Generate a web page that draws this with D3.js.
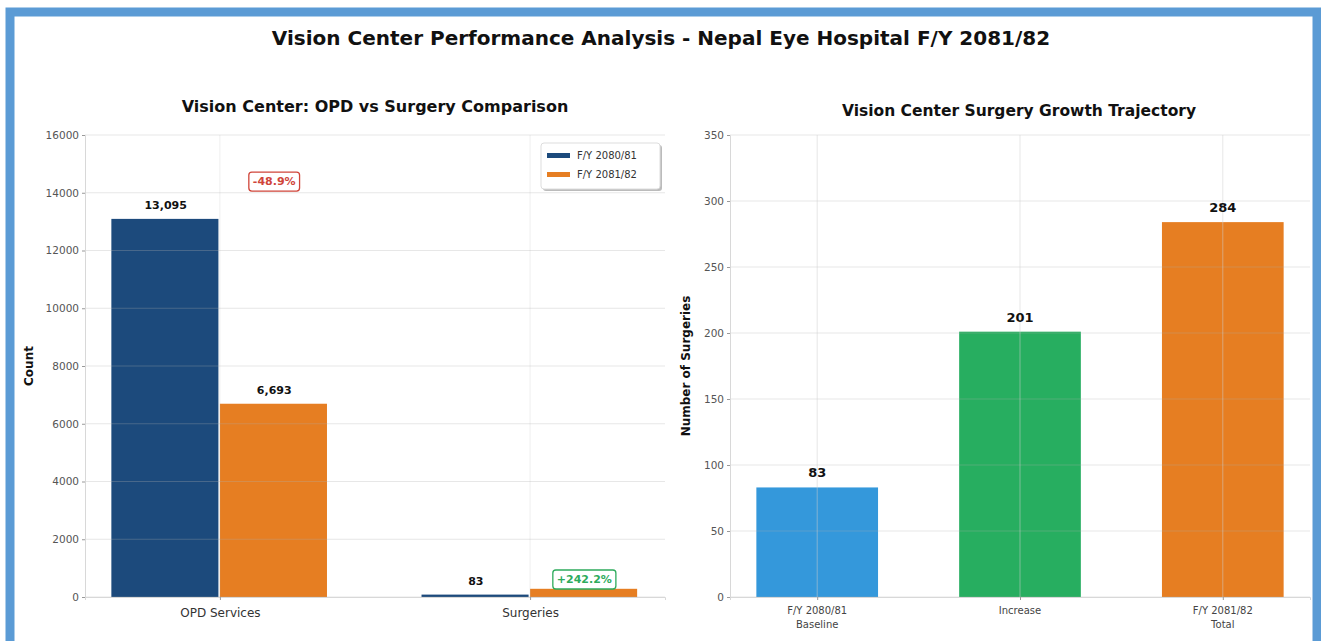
<!DOCTYPE html>
<html>
<head>
<meta charset="utf-8">
<script src="https://cdn.jsdelivr.net/npm/d3@7"></script>
<style>
  body { margin: 0; background: #fff; }
  svg text { font-family: "DejaVu Sans", sans-serif; }
</style>
</head>
<body>
<div id="chart"></div>
<script>
// data
var categories = ["OPD Services", "Surgeries"];
var seriesNames = ["F/Y 2080/81", "F/Y 2081/82"];
var fy8081 = [13095, 83];
var fy8182 = [6693, 284];
var leftTicks = [0, 2000, 4000, 6000, 8000, 10000, 12000, 14000, 16000];

var growthCats = [["F/Y 2080/81", "Baseline"], ["Increase"], ["F/Y 2081/82", "Total"]];
var growthValues = [83, 201, 284];
var rightTicks = [0, 50, 100, 150, 200, 250, 300, 350];

var seriesColors = ["#1c4a7c", "#e67e22"];
var growthColors = ["#3498db", "#27ae60", "#e67e22"];

var W = 1321, H = 641;

var svg = d3.select("#chart")
  .append("svg")
    .attr("width", W)
    .attr("height", H);

// outer frame
svg.append("rect")
  .attr("x", 10).attr("y", 12)
  .attr("width", 1307).attr("height", 700)
  .attr("fill", "#fff")
  .attr("stroke", "#5b9bd5")
  .attr("stroke-width", 9);

// main title
svg.append("text")
  .attr("x", 661).attr("y", 45)
  .attr("text-anchor", "middle")
  .style("font-size", "20px")
  .style("font-weight", "bold")
  .attr("fill", "#111")
  .text("Vision Center Performance Analysis - Nepal Eye Hospital F/Y 2081/82");

// ---------- left chart ----------
var L = {left: 85, right: 665, top: 135, bottom: 597};

var yL = d3.scaleLinear().domain([0, 16000]).range([L.bottom, L.top]);
var xL = d3.scaleLinear().domain([-0.435, 1.435]).range([L.left, L.right]);
var barW = 0.35;

var gL = svg.append("g");

gL.append("text")
  .attr("x", (L.left + L.right) / 2).attr("y", 112)
  .attr("text-anchor", "middle")
  .style("font-size", "16px").style("font-weight", "bold")
  .attr("fill", "#111")
  .text("Vision Center: OPD vs Surgery Comparison");

// bars
[fy8081, fy8182].forEach(function(vals, s) {
  gL.selectAll(".bar" + s)
    .data(vals)
    .enter().append("rect")
      .attr("x", function(d, i) { return xL(i + (s === 0 ? -barW : 0)); })
      .attr("width", xL(barW) - xL(0) - 1.5)
      .attr("y", function(d) { return yL(d); })
      .attr("height", function(d) { return yL(0) - yL(d); })
      .attr("fill", seriesColors[s]);
});

// grid on top (faint)
gL.selectAll(".gy")
  .data(leftTicks)
  .enter().append("line")
    .attr("x1", L.left).attr("x2", L.right)
    .attr("y1", function(d) { return yL(d); })
    .attr("y2", function(d) { return yL(d); })
    .attr("stroke", "#b0b0b0").attr("stroke-opacity", 0.3);
gL.selectAll(".gx")
  .data(categories)
  .enter().append("line")
    .attr("x1", function(d, i) { return xL(i); })
    .attr("x2", function(d, i) { return xL(i); })
    .attr("y1", L.top).attr("y2", L.bottom)
    .attr("stroke", "#b0b0b0").attr("stroke-opacity", 0.2);

// axes
var axL = gL.append("g")
  .attr("transform", "translate(" + L.left + ",0)")
  .call(d3.axisLeft(yL).tickValues(leftTicks).tickFormat(d3.format("d")).tickSize(3).tickPadding(3));
var axB = gL.append("g")
  .attr("transform", "translate(0," + L.bottom + ")")
  .call(d3.axisBottom(xL).tickValues([0, 1]).tickFormat(function(d) { return categories[d]; }).tickSize(3).tickPadding(8));
[axL, axB].forEach(function(a) {
  a.selectAll(".domain").attr("stroke", "#d8d8d8");
  a.selectAll(".tick line").attr("stroke", "#999");
});
axL.selectAll("text").style("font-size", "10.5px").attr("fill", "#555");
axB.selectAll("text").style("font-size", "12px").attr("fill", "#333");

gL.append("text")
  .attr("transform", "translate(33," + ((L.top + L.bottom) / 2) + ") rotate(-90)")
  .attr("text-anchor", "middle")
  .style("font-size", "12px").style("font-weight", "bold")
  .attr("fill", "#111")
  .text("Count");

// percent change boxes (computed first so hidden labels can be skipped)
var boxes = categories.map(function(c, i) {
  var a = fy8081[i], b = fy8182[i];
  var pct = (b - a) / a * 100;
  var raw = yL(Math.max(a, b) * 1.1);
  return {
    i: i,
    txt: (pct > 0 ? "+" : "") + pct.toFixed(1) + "%",
    col: pct < 0 ? "#d0453a" : "#2eab5c",
    cx: xL(i + barW / 2),
    cy: Math.min(raw, L.bottom - 18),
    clamped: raw > L.bottom - 18
  };
});

// value labels (the one under a clamped box is covered in the original)
[fy8081, fy8182].forEach(function(vals, s) {
  gL.selectAll(".lab" + s)
    .data(vals.map(function(v, i) { return {v: v, i: i}; })
      .filter(function(d) { return !(s === 1 && boxes[d.i].clamped); }))
    .enter().append("text")
      .attr("x", function(d) { return xL(d.i + (s === 0 ? -barW / 2 : barW / 2)); })
      .attr("y", function(d) { return yL(d.v) - 10; })
      .attr("text-anchor", "middle")
      .style("font-size", "11px").style("font-weight", "bold")
      .attr("fill", "#111")
      .text(function(d) { return d3.format(",")(d.v); });
});

boxes.forEach(function(b) {
  var t = gL.append("text")
    .attr("x", b.cx).attr("y", b.cy + 4)
    .attr("text-anchor", "middle")
    .style("font-size", "11px").style("font-weight", "bold")
    .attr("fill", b.col)
    .text(b.txt);
  var bb = t.node().getBBox();
  gL.insert("rect", function() { return t.node(); })
    .attr("x", bb.x - 4).attr("y", bb.y - 3)
    .attr("width", bb.width + 8).attr("height", bb.height + 6)
    .attr("rx", 3)
    .attr("fill", "#fff")
    .attr("stroke", b.col).attr("stroke-width", 1.3);
});

// legend
var leg = gL.append("g").attr("transform", "translate(541,143)");
leg.append("rect").attr("x", 2).attr("y", 2).attr("width", 119).attr("height", 46)
  .attr("rx", 3).attr("fill", "#bbb");
leg.append("rect").attr("width", 119).attr("height", 46)
  .attr("rx", 3).attr("fill", "#fff").attr("stroke", "#ddd");
seriesNames.forEach(function(n, i) {
  leg.append("rect")
    .attr("x", 6).attr("y", 10 + i * 19)
    .attr("width", 23).attr("height", 5)
    .attr("fill", seriesColors[i]);
  leg.append("text")
    .attr("x", 36).attr("y", 16 + i * 19)
    .style("font-size", "10px")
    .attr("fill", "#333")
    .text(n);
});

// ---------- right chart ----------
var R = {left: 730, right: 1310, top: 135, bottom: 597};

var yR = d3.scaleLinear().domain([0, 350]).range([R.bottom, R.top]);
var xR = d3.scaleLinear().domain([-0.43, 2.43]).range([R.left, R.right]);
var bw = 0.6;

var gR = svg.append("g");

gR.append("text")
  .attr("x", (R.left + R.right) / 2 - 1).attr("y", 116)
  .attr("text-anchor", "middle")
  .style("font-size", "15.5px").style("font-weight", "bold")
  .attr("fill", "#111")
  .text("Vision Center Surgery Growth Trajectory");

gR.selectAll(".gbar")
  .data(growthValues)
  .enter().append("rect")
    .attr("x", function(d, i) { return xR(i - bw / 2); })
    .attr("width", xR(bw) - xR(0))
    .attr("y", function(d) { return yR(d); })
    .attr("height", function(d) { return yR(0) - yR(d); })
    .attr("fill", function(d, i) { return growthColors[i]; });

gR.selectAll(".gy")
  .data(rightTicks)
  .enter().append("line")
    .attr("x1", R.left).attr("x2", R.right)
    .attr("y1", function(d) { return yR(d); })
    .attr("y2", function(d) { return yR(d); })
    .attr("stroke", "#b0b0b0").attr("stroke-opacity", 0.3);
gR.selectAll(".gx")
  .data(growthValues)
  .enter().append("line")
    .attr("x1", function(d, i) { return xR(i); })
    .attr("x2", function(d, i) { return xR(i); })
    .attr("y1", R.top).attr("y2", R.bottom)
    .attr("stroke", "#d0d0d0").attr("stroke-opacity", 0.5);

var axR = gR.append("g")
  .attr("transform", "translate(" + R.left + ",0)")
  .call(d3.axisLeft(yR).tickValues(rightTicks).tickSize(3).tickPadding(3));
var axRB = gR.append("g")
  .attr("transform", "translate(0," + R.bottom + ")")
  .call(d3.axisBottom(xR).tickValues([0, 1, 2]).tickFormat("").tickSize(3));
[axR, axRB].forEach(function(a) {
  a.selectAll(".domain").attr("stroke", "#d8d8d8");
  a.selectAll(".tick line").attr("stroke", "#999");
});
axR.selectAll("text").style("font-size", "10.5px").attr("fill", "#555");

// two-line category labels
growthCats.forEach(function(lines, i) {
  var t = gR.append("text")
    .attr("x", xR(i)).attr("y", R.bottom + 17)
    .attr("text-anchor", "middle")
    .style("font-size", "10px")
    .attr("fill", "#444");
  lines.forEach(function(l, j) {
    t.append("tspan")
      .attr("x", xR(i))
      .attr("dy", j === 0 ? 0 : 13.5)
      .text(l);
  });
});

gR.append("text")
  .attr("transform", "translate(690," + ((R.top + R.bottom) / 2) + ") rotate(-90)")
  .attr("text-anchor", "middle")
  .style("font-size", "12px").style("font-weight", "bold")
  .attr("fill", "#111")
  .text("Number of Surgeries");

gR.selectAll(".glab")
  .data(growthValues)
  .enter().append("text")
    .attr("x", function(d, i) { return xR(i); })
    .attr("y", function(d) { return yR(d) - 10; })
    .attr("text-anchor", "middle")
    .style("font-size", "13px").style("font-weight", "bold")
    .attr("fill", "#111")
    .text(function(d) { return d; });
</script>
</body>
</html>
